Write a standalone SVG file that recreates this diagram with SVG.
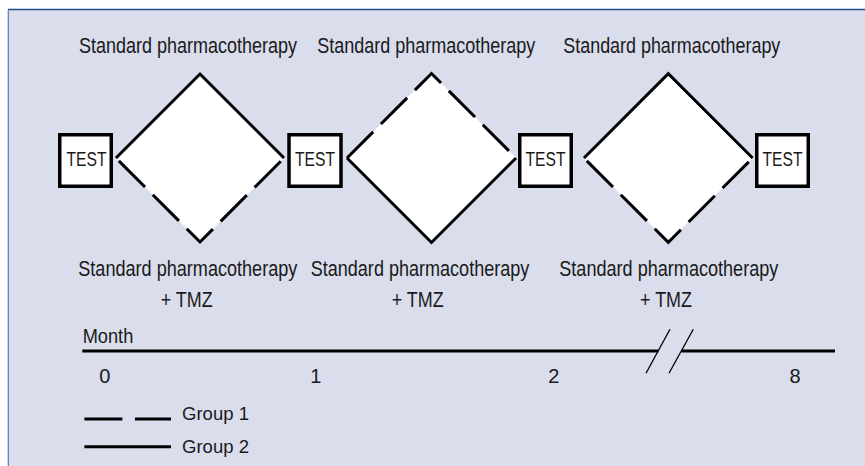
<svg xmlns="http://www.w3.org/2000/svg" width="865" height="466" viewBox="0 0 865 466">
<style>
text{font-family:'Liberation Sans Narrow','Liberation Sans',Arial,sans-serif;fill:#1a1a1a}
.lbl{font-size:19px}
.t{font-size:20px}
.box{fill:#fff;stroke:#000;stroke-width:3.5}
.fill{fill:#fff;stroke:none}
.e{fill:none;stroke:#000;stroke-width:3;stroke-linejoin:miter;stroke-miterlimit:10}
.d{stroke-dasharray:37 11}
.d1{stroke-dashoffset:44}
</style>
<rect x="0" y="0" width="865" height="466" fill="#fff"/>
<rect x="8" y="9.5" width="857" height="456.5" fill="#d9ddec"/>
<line x1="8" y1="9.5" x2="865" y2="9.5" stroke="#1f4e8c" stroke-width="1.5"/>
<line x1="8.3" y1="9.5" x2="8.3" y2="466" stroke="#5b7bb0" stroke-width="1.2"/>

<g id="labels-top">
<text class="lbl" transform="translate(79,53) scale(1,1.18)" textLength="218" lengthAdjust="spacingAndGlyphs">Standard pharmacotherapy</text>
<text class="lbl" transform="translate(317.3,53) scale(1,1.18)" textLength="218" lengthAdjust="spacingAndGlyphs">Standard pharmacotherapy</text>
<text class="lbl" transform="translate(563.3,53) scale(1,1.18)" textLength="217" lengthAdjust="spacingAndGlyphs">Standard pharmacotherapy</text>
</g>

<g id="phase1">
<polygon class="fill" points="116,158 200,74 284,158 200,242"/>
<path class="e" d="M116,158 L200,74 L284,158"/>
<path class="e d d1" d="M116,158 L200,242 L284,158"/>
</g>
<g id="phase2">
<polygon class="fill" points="347,158 431.5,73.5 516,158 431.5,242.5"/>
<path class="e d" d="M347,158 L431.5,73.5 L516,158"/>
<path class="e" d="M347,158 L431.5,242.5 L516,158"/>
</g>
<g id="phase3">
<polygon class="fill" points="584,158 668.3,73.7 752.6,158 668.3,242.3"/>
<path class="e" d="M584,158 L668.3,73.7 L752.6,158"/>
<path class="e d d1" d="M584,158 L668.3,242.3 L752.6,158"/>
</g>

<g id="test1"><rect class="box" x="59.75" y="134.75" width="51.5" height="51.5"/><text class="t" x="66.5" y="166" textLength="40" lengthAdjust="spacingAndGlyphs">TEST</text></g>
<g id="test2"><rect class="box" x="289" y="134.75" width="52" height="51.5"/><text class="t" x="295" y="166" textLength="40" lengthAdjust="spacingAndGlyphs">TEST</text></g>
<g id="test3"><rect class="box" x="519.75" y="134.75" width="51.5" height="51.5"/><text class="t" x="525.5" y="166" textLength="40" lengthAdjust="spacingAndGlyphs">TEST</text></g>
<g id="test4"><rect class="box" x="756.75" y="134.75" width="51.5" height="51.5"/><text class="t" x="762.5" y="166" textLength="40" lengthAdjust="spacingAndGlyphs">TEST</text></g>

<g id="labels-bottom">
<text class="lbl" transform="translate(78.3,276) scale(1,1.18)" textLength="219" lengthAdjust="spacingAndGlyphs">Standard pharmacotherapy</text>
<text class="lbl" transform="translate(160.7,307) scale(1,1.18)" textLength="52" lengthAdjust="spacingAndGlyphs">+ TMZ</text>
<text class="lbl" transform="translate(310.7,276) scale(1,1.18)" textLength="218.6" lengthAdjust="spacingAndGlyphs">Standard pharmacotherapy</text>
<text class="lbl" transform="translate(391.7,307) scale(1,1.18)" textLength="52" lengthAdjust="spacingAndGlyphs">+ TMZ</text>
<text class="lbl" transform="translate(559.3,276) scale(1,1.18)" textLength="219" lengthAdjust="spacingAndGlyphs">Standard pharmacotherapy</text>
<text class="lbl" transform="translate(640,307) scale(1,1.18)" textLength="52" lengthAdjust="spacingAndGlyphs">+ TMZ</text>
</g>

<g id="timeline">
<text class="t" x="82.7" y="342.7" textLength="50.6" lengthAdjust="spacingAndGlyphs">Month</text>
<line x1="82.3" y1="351" x2="658.3" y2="351" stroke="#000" stroke-width="3.2"/>
<line x1="681.5" y1="351" x2="835" y2="351" stroke="#000" stroke-width="3.2"/>
<line x1="646" y1="373.3" x2="670" y2="329.3" stroke="#000" stroke-width="1.3"/>
<line x1="669" y1="373.3" x2="693.3" y2="329.3" stroke="#000" stroke-width="1.3"/>
<text class="t" x="104.7" y="383" text-anchor="middle">0</text>
<text class="t" x="315.8" y="383" text-anchor="middle">1</text>
<text class="t" x="553.8" y="383" text-anchor="middle">2</text>
<text class="t" x="795" y="383" text-anchor="middle">8</text>
</g>

<g id="legend">
<line x1="84.4" y1="419" x2="171" y2="419" stroke="#000" stroke-width="3" stroke-dasharray="38 12.6"/>
<text class="t" style="font-size:19px" x="182" y="420" textLength="67" lengthAdjust="spacingAndGlyphs">Group 1</text>
<line x1="84.4" y1="446.7" x2="171" y2="446.7" stroke="#000" stroke-width="3"/>
<text class="t" style="font-size:19px" x="182" y="453" textLength="67" lengthAdjust="spacingAndGlyphs">Group 2</text>
</g>
</svg>
